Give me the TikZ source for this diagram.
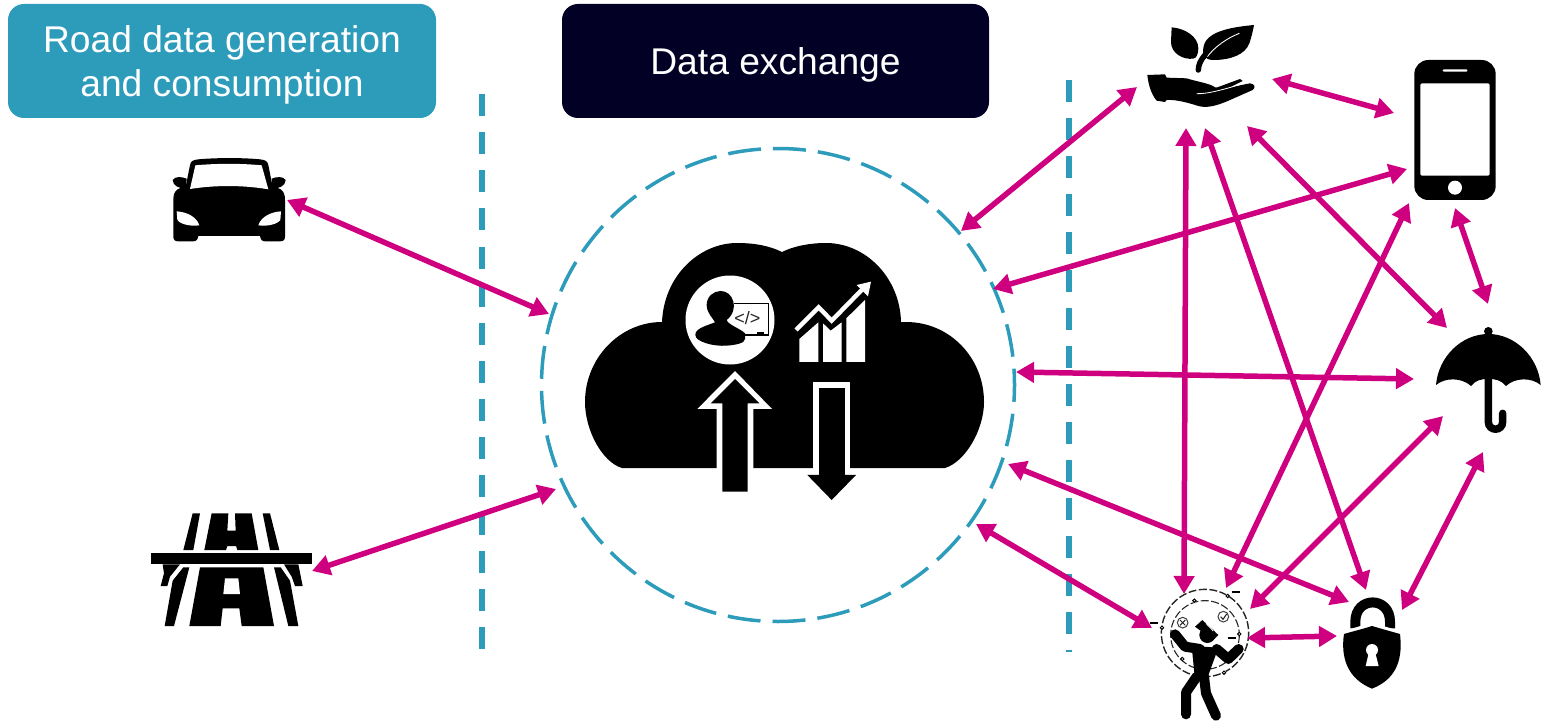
\documentclass[tikz,border=0pt]{standalone}
\usepackage{fontspec}
\setmainfont{Liberation Sans}
\usetikzlibrary{arrows.meta}
\definecolor{teal}{HTML}{2C9CBA}
\definecolor{navy}{HTML}{020024}
\definecolor{mag}{HTML}{CE0080}
\tikzset{
 header/.style={text=white,align=center,inner sep=0pt,font=\fontsize{37.2}{44}\selectfont},
 link/.style={draw=mag,line width=5.5pt,{Triangle[length=18pt,width=20pt]}-{Triangle[length=18pt,width=20pt]}},
 divider/.style={draw=teal,line width=5.5pt,dash pattern=on 22pt off 16pt},
 ring/.style={draw=teal,line width=3.5pt,dash pattern=on 33pt off 12.03pt,dash phase=16.2pt},
 zoomed/.style={x=0.33333pt,y=-0.33333pt},
 thinring/.style={draw=black!85,line width=1.4pt,dash pattern=on 8pt off 2.5pt},
 limb/.style={draw=black,line width=10pt,line cap=round,line join=round},
}
\begin{document}
\begin{tikzpicture}[x=1pt,y=-1pt]
\useasboundingbox (0,0) rectangle (1550,722);
% headers
\fill[teal,rounded corners=16pt] (8,4) rectangle (436,118);
\fill[navy,rounded corners=16pt] (562,4) rectangle (989,118);
\node[header] (hroad) at (222,66) {\strut Road data generation\\\strut and consumption};
\node[header] (hdata) at (775.5,66) {\strut Data exchange};
% dividers and ring
\coordinate (d1a) at (482,94.5); \coordinate (d1b) at (482,650);
\coordinate (d2a) at (1069,79.7); \coordinate (d2b) at (1069,652);
\draw[divider] (d1a) -- (d1b);
\draw[divider] (d2a) -- (d2b);
\draw[ring] (778,385) circle[radius=236.5];
% cloud
\fill[black] (662,322) .. controls (664,275) and (700,243) .. (737,243)
 .. controls (755,243) and (770,246) .. (782,252)
 .. controls (794,246) and (810,243) .. (826,243)
 .. controls (866,243) and (900,278) .. (901,322)
 -- (906,322) .. controls (950,322) and (984,358) .. (984,402)
 .. controls (984,430) and (965,462) .. (945,468)
 -- (622,468) .. controls (602,462) and (585,430) .. (585,402)
 .. controls (585,358) and (620,322) .. (662,322) -- cycle;
\fill[white] (730,320) circle[radius=44.5];
\begin{scope}[shift={(580,235)},zoomed]
 % person at monitor
 \draw[draw=black,line width=1.6pt] (462,205) -- (566,205) -- (566,300) -- (490,300);
 \fill[black] (422,168) .. controls (400,168) and (380,185) .. (380,210) .. controls (380,235) and (400,250) .. (405,262)
  .. controls (380,272) and (345,280) .. (346,300) .. controls (346,320) and (400,335) .. (440,332) .. controls (465,330) and (495,325) .. (495,312)
  -- (495,295) .. controls (480,280) and (445,270) .. (440,255) .. controls (460,240) and (465,215) .. (460,200) .. controls (455,180) and (440,168) .. (422,168) -- cycle;
 \fill[black] (532,290) rectangle (552,296);
 \node[inner sep=0pt,text=black!85,font=\fontsize{18}{18}\selectfont] (code) at (502,250) {</>};
 % chart
 \fill[white] (658,312) -- (715,262) -- (715,381) -- (658,381) -- cycle;
 \fill[white] (729,265) -- (752,287) -- (785,262) -- (785,381) -- (729,381) -- cycle;
 \fill[white] (799,250) -- (855,195) -- (855,381) -- (799,381) -- cycle;
 \draw[black,line width=6.5pt] (638,298) -- (716,220) -- (755,264) -- (850,170);
 \draw[white,line width=4.4pt] (648,285) -- (716,217) -- (755,257) -- (845,165);
 \fill[white] (873,140) -- (830,150) -- (864,184) -- cycle;
 % up arrow
 \fill[white] (465,408) -- (576,522) -- (520,522) -- (520,705) -- (410,705) -- (410,522) -- (352,522) -- cycle;
 \fill[black] (465,432) -- (538,505) -- (503,505) -- (503,770) -- (427,770) -- (427,505) -- (392,505) -- cycle;
 % down arrow
 \fill[white] (700,440) rectangle (810,722);
 \fill[black] (718,458) rectangle (795,725);
 \fill[black] (682,720) -- (828,720) -- (755,795) -- cycle;
\end{scope}
% car
\begin{scope}[shift={(140,140)},zoomed]
 \fill[black] (150,75) .. controls (153,62) and (160,60) .. (175,58) .. controls (230,53) and (310,53) .. (360,58) .. controls (375,60) and (382,62) .. (385,75)
  -- (397,136) -- (422,148) .. controls (432,155) and (435,165) .. (435,180) -- (435,290) .. controls (435,300) and (430,304) .. (420,304)
  -- (375,304) .. controls (365,304) and (362,298) .. (360,288) -- (175,288) .. controls (173,298) and (170,304) .. (160,304)
  -- (115,304) .. controls (105,304) and (100,300) .. (100,290) -- (100,180) .. controls (100,165) and (103,155) .. (113,148) -- (138,136) -- cycle;
 \fill[black] (98,120) .. controls (106,108) and (125,110) .. (140,116) -- (138,145) .. controls (120,147) and (98,138) .. (98,120) -- cycle;
 \fill[black] (437,120) .. controls (429,108) and (410,110) .. (395,116) -- (397,145) .. controls (415,147) and (437,138) .. (437,120) -- cycle;
 \fill[white] (166,76) .. controls (230,70) and (305,70) .. (365,76) -- (385,148) .. controls (310,135) and (225,135) .. (150,147) -- cycle;
 \fill[white] (110,214) .. controls (140,216) and (170,230) .. (178,256) .. controls (150,260) and (120,252) .. (112,240) -- cycle;
 \fill[white] (423,214) .. controls (393,216) and (363,230) .. (355,256) .. controls (383,260) and (413,252) .. (421,240) -- cycle;
\end{scope}
% road
\begin{scope}[shift={(150,510)},zoomed]
 \fill[black] (2,130) rectangle (486,163);
 \fill[black] (128,10) -- (150,10) -- (130,120) -- (100,120) -- cycle;
 \fill[black] (338,10) -- (360,10) -- (388,120) -- (360,120) -- cycle;
 \fill[black] (185,10) -- (235,10) -- (232,62) -- (257,62) -- (255,10) -- (305,10) -- (325,120) -- (262,120) -- (258,108) -- (232,108) -- (228,120) -- (163,120) -- cycle;
 \fill[black] (38,163) -- (90,163) -- (60,200) -- (52,228) -- (32,228) -- (42,190) -- cycle;
 \fill[black] (402,163) -- (445,163) -- (458,228) -- (435,228) -- (425,200) -- cycle;
 \fill[black] (100,172) -- (118,172) -- (72,348) -- (44,348) -- (68,212) -- cycle;
 \fill[black] (372,172) -- (392,172) -- (420,212) -- (445,348) -- (415,348) -- cycle;
 \fill[black] (150,172) -- (340,172) -- (372,348) -- (275,348) -- (268,295) -- (218,295) -- (212,348) -- (118,348) -- cycle;
 \fill[white] (225,205) -- (265,205) -- (270,252) -- (220,252) -- cycle;
\end{scope}
% plant and phone
\begin{scope}[shift={(1130,10)},zoomed]
 \fill[black] (125,52) .. controls (165,55) and (205,80) .. (205,115) .. controls (205,130) and (200,145) .. (190,146) .. controls (160,150) and (122,130) .. (123,95) -- cycle;
 \fill[black] (372,45) .. controls (320,50) and (235,60) .. (222,105) .. controls (215,130) and (220,150) .. (250,150) .. controls (300,150) and (345,135) .. (358,100) .. controls (365,80) and (368,65) .. (372,45) -- cycle;
 \draw[white,line width=0.9pt] (232,140) .. controls (255,110) and (290,85) .. (328,70);
 \draw[black,line width=5.5pt,line cap=round] (225,135) .. controls (212,150) and (205,165) .. (205,180);
 \fill[black] (52,195) -- (105,193) -- (110,203) -- (170,205) .. controls (200,215) and (240,220) .. (255,232) -- (262,232) -- (330,207) -- (338,213) -- (300,232) -- (360,220) .. controls (375,222) and (378,232) .. (368,240) -- (300,270) .. controls (260,288) and (230,295) .. (205,288) .. controls (180,280) and (140,268) .. (110,270) -- (105,276) -- (80,272) .. controls (65,255) and (55,225) .. (52,195) -- cycle;
 \draw[white,line width=0.8pt] (200,251) .. controls (230,252) and (270,242) .. (335,222);
 % phone
 \fill[black,rounded corners=14pt] (853,150) rectangle (1097,570);
 \fill[white,rounded corners=1.5pt] (871,220) rectangle (1079,497);
 \fill[white,rounded corners=1pt] (938,178) rectangle (1012,185);
 \fill[white] (975,533) circle[radius=21];
\end{scope}
% umbrella
\begin{scope}[shift={(1400,310)},zoomed]
 \draw[black,line width=7.5pt,line cap=round] (265,200) -- (265,335) .. controls (265,365) and (308,365) .. (308,335) -- (308,310);
 \fill[black] (265,64) circle[radius=13];
 \fill[black] (108,225) .. controls (115,140) and (185,72) .. (265,72) .. controls (345,72) and (415,140) .. (422,225)
  .. controls (395,202) and (345,202) .. (318,228) .. controls (305,212) and (285,205) .. (265,208)
  .. controls (245,205) and (225,212) .. (213,228) .. controls (185,202) and (135,202) .. (108,225) -- cycle;
\end{scope}
% lock
\begin{scope}[shift={(1130,570)},zoomed]
 \draw[black,line width=10pt] (676,175) -- (676,155) .. controls (676,78) and (780,78) .. (780,155) -- (780,175);
 \fill[white] (726,158) -- (820,186) -- (820,200) -- (630,200) -- (630,186) -- cycle;
 \fill[black] (726,168) .. controls (760,178) and (785,185) .. (810,192) .. controls (818,260) and (805,325) .. (726,356) .. controls (650,325) and (632,260) .. (642,192) .. controls (665,185) and (695,178) .. (726,168) -- cycle;
 \fill[white] (726,240) circle[radius=18];
 \fill[white] (717,245) -- (735,245) -- (746,288) -- (707,288) -- cycle;
\end{scope}
% worker
\begin{scope}[shift={(1150,585)},zoomed]
 \draw[thinring] (165,144) circle[radius=131];
 \draw[thinring,line width=1.1pt] (165,150) circle[radius=103];
 \foreach \cx/\cy in {36/128,233/33,268/147,222/263,133/47,97/222}{
  \fill[white] (\cx,\cy) circle[radius=6];
  \draw[black,line width=1pt] (\cx,\cy) circle[radius=5];}
 \draw[black,line width=2pt] (0,113) -- (25,113);
 \draw[black,line width=2pt] (245,20) -- (270,20);
 \draw[black,line width=2pt] (233,158) -- (258,158);
 \draw[black!75,line width=1pt] (98,113) circle[radius=16];
 \draw[black!75,line width=1pt] (220,95) circle[radius=16];
 \draw[black!85,line width=1pt] (90,105) -- (106,121) (106,105) -- (90,121);
 \draw[black!85,line width=1.1pt] (212,95) -- (219,103) -- (230,87);
 % figure
 \draw[limb] (75,148) -- (105,185) -- (150,192);
 \draw[limb] (266,192) -- (235,222) -- (200,192);
 \fill[black] (125,183) -- (205,188) -- (170,285) -- (135,285) -- cycle;
 \draw[limb] (140,275) -- (108,322) -- (108,388);
 \draw[limb] (162,275) -- (168,325) -- (198,392);
 \fill[white] (148,160) circle[radius=5];
 \fill[black] (172,150) circle[radius=24];
 \fill[black] (135,125) -- (157,105) -- (205,150) -- (190,165) -- cycle;
 \draw[white,line width=0.9pt] (168,115) -- (190,138);
\end{scope}
% connector ends
\coordinate (car) at (287,200); \coordinate (ringCar) at (549,314);
\coordinate (road) at (312,571); \coordinate (ringRoad) at (556,489);
\coordinate (plantRing) at (1137,87); \coordinate (ringPlant) at (961,231);
\coordinate (plantPhone) at (1272,79); \coordinate (phonePlant) at (1394,113);
\coordinate (phoneRing) at (1407,169); \coordinate (ringPhone) at (993,289);
\coordinate (ringUmb) at (1016,372); \coordinate (umbRing) at (1414,379);
\coordinate (ringLock) at (1008,464); \coordinate (lockRing) at (1349,602);
\coordinate (ringWork) at (976,524); \coordinate (workRing) at (1152,628);
\coordinate (plantWork) at (1186,128); \coordinate (workPlant) at (1184,594);
\coordinate (plantLock) at (1205,128); \coordinate (lockPlant) at (1366,590);
\coordinate (plantUmb) at (1247,126); \coordinate (umbPlant) at (1447,328);
\coordinate (phoneWork) at (1409,203); \coordinate (workPhone) at (1226,588);
\coordinate (phoneUmb) at (1455,208); \coordinate (umbPhone) at (1488,304);
\coordinate (umbWork) at (1443,416); \coordinate (workUmb) at (1250,609);
\coordinate (umbLock) at (1483,452); \coordinate (lockUmb) at (1402,610);
\coordinate (workLock) at (1247,638); \coordinate (lockWork) at (1337,636);
% connectors
\draw[link] (car) -- (ringCar);
\draw[link] (road) -- (ringRoad);
\draw[link] (plantRing) -- (ringPlant);
\draw[link] (plantPhone) -- (phonePlant);
\draw[link] (phoneRing) -- (ringPhone);
\draw[link] (ringUmb) -- (umbRing);
\draw[link] (ringLock) -- (lockRing);
\draw[link] (ringWork) -- (workRing);
\draw[link] (plantWork) -- (workPlant);
\draw[link] (plantLock) -- (lockPlant);
\draw[link] (plantUmb) -- (umbPlant);
\draw[link] (phoneWork) -- (workPhone);
\draw[link] (phoneUmb) -- (umbPhone);
\draw[link] (umbWork) -- (workUmb);
\draw[link] (umbLock) -- (lockUmb);
\draw[link] (workLock) -- (lockWork);
\end{tikzpicture}
\end{document}
